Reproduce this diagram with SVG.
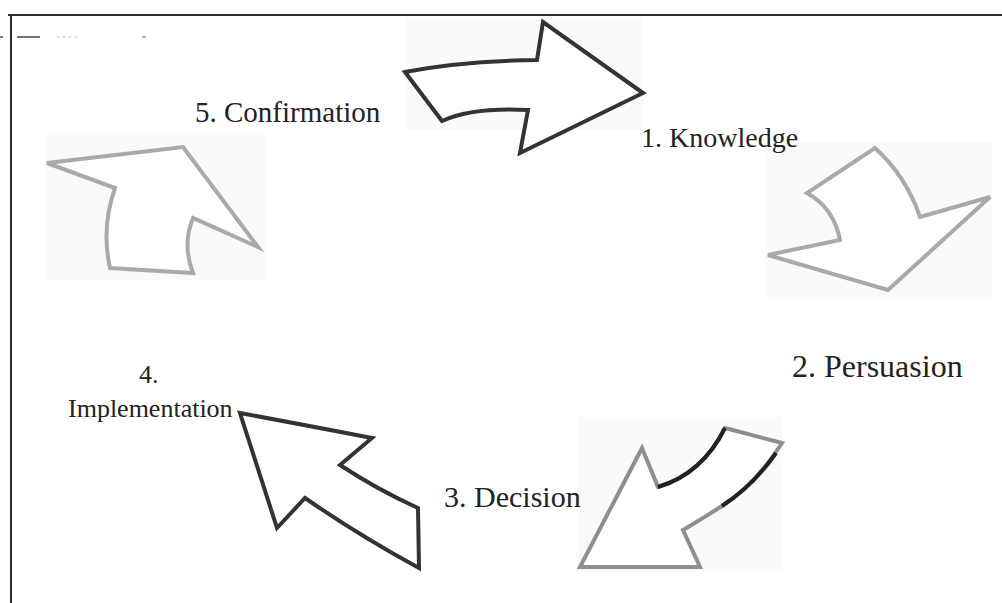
<svg xmlns="http://www.w3.org/2000/svg" width="1002" height="603" viewBox="0 0 1002 603">
  <style>
    .lbl { font-family: "Liberation Serif", "Times New Roman", serif; fill: #222; }
    .arrow { fill: #fff; stroke-linejoin: miter; stroke-width: 4; }
    .dark { stroke: #333; }
    .grey { stroke: #a9a9a9; }
    .mid { stroke: #8e8e8e; }
    .ink { fill: none; stroke: #222; stroke-width: 4; }
    .box { fill: #fafafa; stroke: none; }
    .frame { stroke: #2a2a2a; stroke-width: 2; fill: none; }
  </style>
  <rect width="1002" height="603" fill="#fff"/>

  <!-- page frame -->
  <g id="frame">
    <line class="frame" x1="8" y1="15" x2="1002" y2="15"/>
    <line class="frame" x1="11" y1="14" x2="11" y2="603"/>
    <line x1="0" y1="37" x2="3" y2="37" stroke="#555" stroke-width="1.5"/>
    <line x1="17" y1="37" x2="40" y2="37" stroke="#444" stroke-width="1.5"/>
    <line x1="57" y1="37" x2="77" y2="37" stroke="#aaa" stroke-width="1" stroke-dasharray="2 4"/>
    <line x1="142" y1="37" x2="146" y2="37" stroke="#999" stroke-width="1.5"/>
  </g>

  <!-- arrows cycling between the stages -->
  <g id="connectors">
    <g id="arrow-knowledge">
      <rect class="box" x="405" y="17" width="238" height="113"/>
      <path class="arrow dark" d="M405,72 Q462,61 537,60 L543,22 L643,93 L520,153 L528,110 Q472,107 442,121 Z"/>
    </g>
    <g id="arrow-persuasion">
      <rect class="box" x="765" y="142" width="227" height="155"/>
      <path class="arrow grey" d="M875,148 Q906,176 920,217 L990,197 L888,290 L768,255 L840,240 Q834,208 807,193 Z"/>
    </g>
    <g id="arrow-decision">
      <rect class="box" x="577" y="417" width="206" height="155"/>
      <path class="arrow mid" d="M725,428 L782,443 Q755,485 722,506 Q700,520 683,530 L700,567 L580,567 L642,448 L658,487 Q702,474 725,428 Z"/>
      <path class="ink" d="M658,487 Q702,474 725,428"/>
      <path class="ink" d="M776,453 Q753,486 722,506"/>
    </g>
    <g id="arrow-implementation">
      <path class="arrow dark" d="M240,413 Q305,425 372,438 L340,465 Q378,490 418,508 L419,568 Q360,536 305,498 L277,528 Z"/>
    </g>
    <g id="arrow-confirmation">
      <rect class="box" x="45" y="135" width="220" height="145"/>
      <path class="arrow grey" d="M47,163 L183,147 L258,247 L193,218 Q182,245 193,273 L110,268 Q101,228 115,188 Z"/>
    </g>
  </g>

  <!-- stage labels -->
  <g id="node-knowledge">
    <text class="lbl" x="641" y="147" font-size="28">1. Knowledge</text>
  </g>
  <g id="node-persuasion">
    <text class="lbl" x="792" y="377" font-size="32">2. Persuasion</text>
  </g>
  <g id="node-decision">
    <text class="lbl" x="444" y="507" font-size="30">3. Decision</text>
  </g>
  <g id="node-implementation">
    <text class="lbl" x="139" y="383" font-size="26">4.</text>
    <text class="lbl" x="68" y="417" font-size="26">Implementation</text>
  </g>
  <g id="node-confirmation">
    <text class="lbl" x="195" y="122" font-size="29">5. Confirmation</text>
  </g>
</svg>
